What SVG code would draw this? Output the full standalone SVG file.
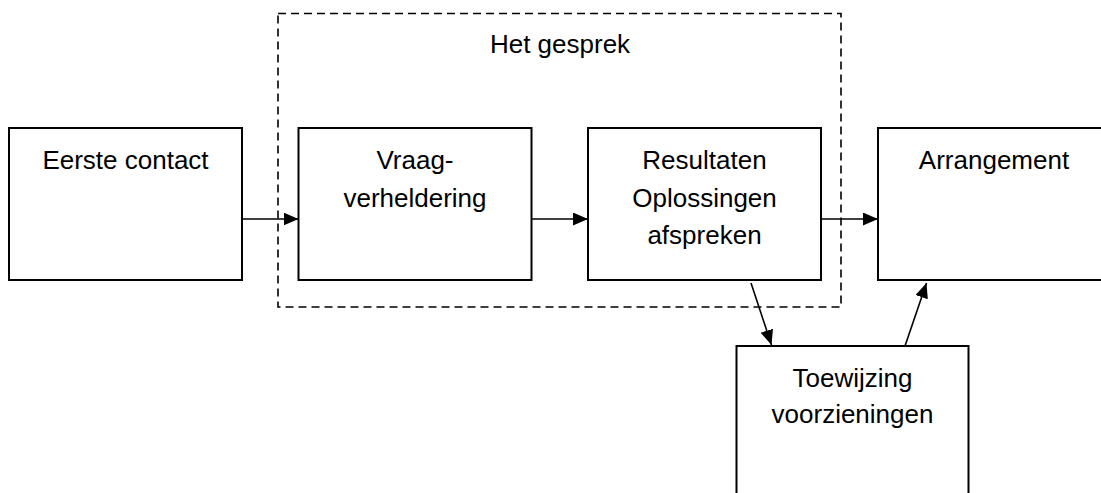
<svg xmlns="http://www.w3.org/2000/svg" width="1101" height="493" viewBox="0 0 1101 493">
<style>
.box{fill:#fff;stroke:#000;stroke-width:2}
.grp{fill:none;stroke:#000;stroke-width:1.6;stroke-dasharray:8,5}
.t{font-family:"Liberation Sans",Arial,sans-serif;font-size:26px;fill:#000;text-anchor:middle}
.c{stroke:#000;stroke-width:1.6;fill:none}
</style>
<defs>
<marker id="ah" markerUnits="userSpaceOnUse" markerWidth="16" markerHeight="14" refX="15" refY="6.5" orient="auto">
<path d="M0,0 L15,6.5 L0,13 z" fill="#000"/>
</marker>
</defs>
<rect width="1101" height="493" fill="#fff"/>
<g id="het-gesprek">
<rect class="grp" x="278" y="13.5" width="563" height="293.5"/>
<text class="t" x="560" y="53">Het gesprek</text>
</g>
<g id="eerste-contact">
<rect class="box" x="9" y="128" width="233" height="152"/>
<text class="t" x="125.5" y="169">Eerste contact</text>
</g>
<g id="vraagverheldering">
<rect class="box" x="298.5" y="128" width="233" height="152"/>
<text class="t" x="415" y="169">Vraag-</text>
<text class="t" x="415" y="207">verheldering</text>
</g>
<g id="resultaten">
<rect class="box" x="588" y="128" width="233" height="152"/>
<text class="t" x="704.5" y="169">Resultaten</text>
<text class="t" x="704.5" y="207">Oplossingen</text>
<text class="t" x="704.5" y="244">afspreken</text>
</g>
<g id="arrangement">
<rect class="box" x="878" y="128" width="233" height="152"/>
<text class="t" x="994" y="169">Arrangement</text>
</g>
<g id="toewijzing">
<rect class="box" x="736.5" y="346" width="232" height="160"/>
<text class="t" x="852.5" y="387">Toewijzing</text>
<text class="t" x="852.5" y="423">voorzieningen</text>
</g>
<g id="connectors">
<line class="c" x1="242" y1="219" x2="298.5" y2="219" marker-end="url(#ah)"/>
<line class="c" x1="531.5" y1="219" x2="588" y2="219" marker-end="url(#ah)"/>
<line class="c" x1="821" y1="219" x2="878" y2="219" marker-end="url(#ah)"/>
<line class="c" x1="751" y1="283" x2="771.5" y2="345" marker-end="url(#ah)"/>
<line class="c" x1="905" y1="346" x2="926.5" y2="283" marker-end="url(#ah)"/>
</g>
</svg>
